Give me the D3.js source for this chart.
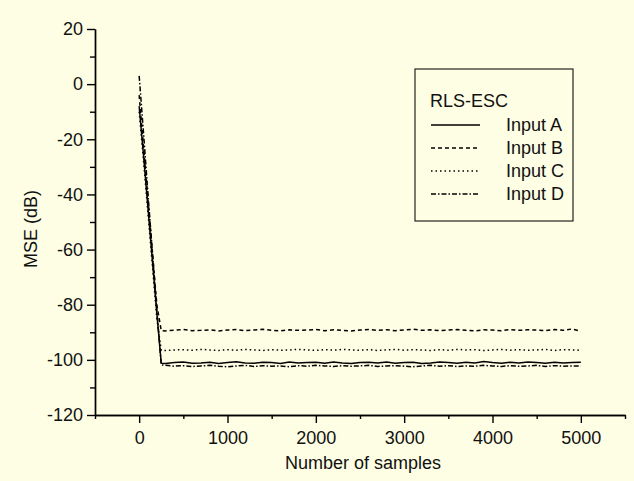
<!DOCTYPE html>
<html>
<head>
<meta charset="utf-8">
<script src="https://cdn.jsdelivr.net/npm/d3@7"></script>
<style>
  body { margin: 0; background: #fefee4; }
  svg { display: block; }
  text { font-family: "Liberation Sans", Arial, sans-serif; }
</style>
</head>
<body>
<svg width="634" height="481"></svg>
<script>
// sample index (x) shared by all curves
const samples = [0, 50, 100, 150, 200, 250,
  300, 400, 500, 600, 700, 800, 900, 1000,
  1100, 1200, 1300, 1400, 1500, 1600, 1700, 1800,
  1900, 2000, 2100, 2200, 2300, 2400, 2500, 2600,
  2700, 2800, 2900, 3000, 3100, 3200, 3300, 3400,
  3500, 3600, 3700, 3800, 3900, 4000, 4100, 4200,
  4300, 4400, 4500, 4600, 4700, 4800, 4900, 5000];

const inputA = [-8, -26, -45, -64, -83, -101.2,
  -101.3, -101.0, -100.8, -101.2, -101.1, -100.9, -101.3, -101.0,
  -100.7, -101.1, -101.2, -100.9, -101.0, -101.3, -100.8, -101.1,
  -101.0, -100.9, -101.2, -100.8, -101.1, -101.3, -101.0, -100.9,
  -101.1, -100.8, -101.2, -101.0, -100.9, -101.3, -101.1, -100.8,
  -101.0, -101.2, -100.9, -101.1, -100.6, -101.0, -101.2, -100.9,
  -101.1, -100.8, -101.0, -101.2, -100.9, -101.1, -101.0, -100.9];

const inputB = [-4, -23, -42, -61, -80, -89.4,
  -89.5, -89.2, -89.0, -89.4, -89.3, -89.1, -89.5, -89.2,
  -89.0, -89.4, -89.2, -88.9, -89.3, -89.5, -89.1, -89.3,
  -89.2, -89.0, -89.4, -89.1, -89.3, -89.5, -89.2, -89.0,
  -89.3, -89.1, -89.4, -89.2, -88.9, -89.3, -89.1, -89.4,
  -89.2, -89.0, -89.3, -89.5, -89.1, -89.2, -89.4, -89.0,
  -89.3, -89.1, -89.2, -89.4, -89.0, -89.3, -88.8, -89.6];

const inputC = [-10, -28, -47, -66, -85, -96.6,
  -96.6, -96.4, -96.3, -96.5, -96.2, -96.4, -96.6, -96.3,
  -96.5, -96.2, -96.4, -96.6, -96.3, -96.5, -96.4, -96.2,
  -96.4, -96.6, -96.3, -96.5, -96.2, -96.4, -96.5, -96.3,
  -96.6, -96.4, -96.2, -96.5, -96.3, -96.4, -96.6, -96.3,
  -96.5, -96.2, -96.4, -96.3, -96.6, -96.4, -96.2, -96.5,
  -96.3, -96.5, -96.4, -96.2, -96.6, -96.3, -96.4, -96.5];

const inputD = [3, -18, -40, -61, -82, -101.8,
  -102.0, -102.3, -102.1, -102.4, -102.2, -102.0, -102.3, -102.5,
  -102.2, -102.0, -102.4, -102.1, -102.3, -102.2, -102.5, -102.1,
  -102.3, -102.0, -102.2, -102.4, -102.1, -102.3, -102.2, -102.0,
  -102.4, -102.2, -102.1, -102.3, -102.5, -102.2, -102.0, -102.3,
  -102.1, -102.4, -102.2, -102.3, -102.0, -102.2, -102.4, -102.1,
  -102.3, -102.2, -102.0, -102.4, -102.1, -102.3, -102.2, -102.2];

const seriesNames = ["Input A", "Input B", "Input C", "Input D"];
const xTicks = [0, 1000, 2000, 3000, 4000, 5000];
const xMinor = [-500, 500, 1500, 2500, 3500, 4500, 5500];
const yTicks = [-120, -100, -80, -60, -40, -20, 0, 20];
const yMinor = [-110, -90, -70, -50, -30, -10, 10];

const dashes = [null, "4,3", "1.5,3", "5,2,1.5,2"];
const allSeries = [inputA, inputB, inputC, inputD];

const svg = d3.select("svg");

let xScale = d3.scaleLinear().domain([-500, 5500]).range([95, 625]);
let yScale = d3.scaleLinear().domain([-120, 20]).range([415, 29]);

// axes (plain labels: ascii minus, no thousands separator)
let plain = d => String(d);
let xAxis = d3.axisBottom(xScale).tickValues(xTicks).tickSize(8).tickSizeOuter(0).tickPadding(8).tickFormat(plain);
let xAxisMinor = d3.axisBottom(xScale).tickValues(xMinor).tickSize(4).tickSizeOuter(0).tickFormat("");
let yAxis = d3.axisLeft(yScale).tickValues(yTicks).tickSize(8).tickSizeOuter(0).tickPadding(4).tickFormat(plain);
let yAxisMinor = d3.axisLeft(yScale).tickValues(yMinor).tickSize(5).tickSizeOuter(0).tickFormat("");

svg.append("g").attr("transform", "translate(0,415)").call(xAxisMinor);
svg.append("g").attr("class", "x axis").attr("transform", "translate(0,415)").call(xAxis);
svg.append("g").attr("transform", "translate(95,0)").call(yAxisMinor);
svg.append("g").attr("class", "y axis").attr("transform", "translate(95,0)").call(yAxis);

svg.selectAll(".domain, .tick line")
  .attr("stroke", "#000")
  .attr("stroke-width", 1.4);
svg.selectAll(".tick text")
  .style("font-size", "18px")
  .attr("fill", "#111");

// axis titles
svg.append("text")
  .attr("x", 363).attr("y", 469)
  .attr("text-anchor", "middle")
  .style("font-size", "18px")
  .attr("fill", "#111")
  .text("Number of samples");

svg.append("text")
  .attr("transform", "translate(37,229) rotate(-90)")
  .attr("text-anchor", "middle")
  .style("font-size", "18px")
  .attr("fill", "#111")
  .text("MSE (dB)");

// curves
let line = d3.line()
  .x((d, i) => xScale(samples[i]))
  .y(d => yScale(d));

svg.selectAll("path.curve")
  .data(allSeries)
  .join("path")
  .attr("class", "curve")
  .attr("d", d => line(d))
  .attr("fill", "none")
  .attr("stroke", "#000")
  .attr("stroke-width", 1.5)
  .attr("stroke-dasharray", (d, i) => dashes[i]);

// legend
let legend = svg.append("g");
legend.append("rect")
  .attr("x", 415).attr("y", 69)
  .attr("width", 158).attr("height", 152)
  .attr("fill", "none")
  .attr("stroke", "#222")
  .attr("stroke-width", 1.2);

legend.append("text")
  .attr("x", 430).attr("y", 107)
  .style("font-size", "18px")
  .attr("fill", "#111")
  .text("RLS-ESC");

seriesNames.forEach((name, i) => {
  let yy = 131 + i * 23;
  legend.append("line")
    .attr("x1", 431).attr("x2", 480)
    .attr("y1", yy - 6).attr("y2", yy - 6)
    .attr("stroke", "#000")
    .attr("stroke-width", 1.3)
    .attr("stroke-dasharray", dashes[i]);
  legend.append("text")
    .attr("x", 506).attr("y", yy)
    .style("font-size", "18px")
    .attr("fill", "#111")
    .text(name);
});
</script>
</body>
</html>
